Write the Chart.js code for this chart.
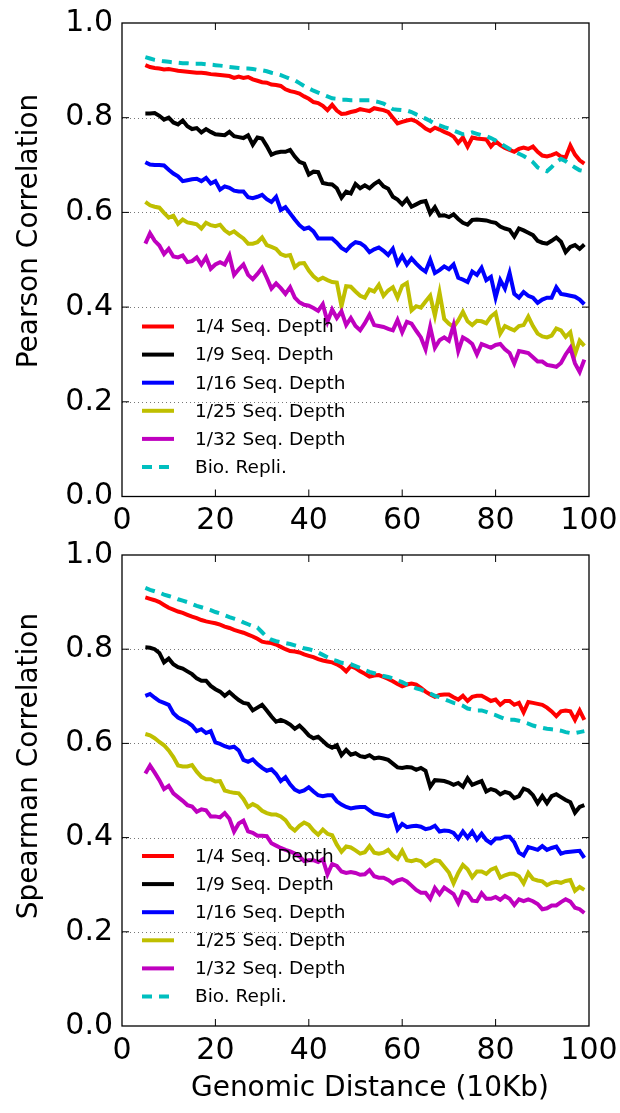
<!DOCTYPE html>
<html>
<head>
<meta charset="utf-8">
<script src="https://cdn.jsdelivr.net/npm/chart.js@4.4.1/dist/chart.umd.min.js"></script>
<style>
  body { margin: 0; background: #fff; }
  #wrap { position: relative; width: 620px; height: 1113px; overflow: hidden; font-family: "DejaVu Sans", sans-serif; }
  .panel { position: absolute; left: 0; width: 620px; }
  .ytitle { position: absolute; font-size: 28px; color: #000; white-space: nowrap; transform: translate(-50%, -50%) rotate(-90deg); }
  .xtitle { position: absolute; font-size: 28px; color: #000; white-space: nowrap; transform: translate(-50%, -50%); }
</style>
</head>
<body>
<div id="wrap">
  <div class="panel" style="top:0;height:540px"><canvas id="pearsonChart" width="620" height="540"></canvas></div>
  <div class="panel" style="top:530px;height:583px"><canvas id="spearmanChart" width="620" height="583"></canvas></div>
  <div class="ytitle" style="left:27px;top:231px">Pearson Correlation</div>
  <div class="ytitle" style="left:27px;top:766px">Spearman Correlation</div>
  <div class="xtitle" style="left:370px;top:1086px">Genomic Distance (10Kb)</div>
</div>
<script>
// genomic distance (x, in 10Kb)
var distance = [5,6,7,8,9,10,11,12,13,14,15,16,17,18,19,20,21,22,23,24,25,26,27,28,29,30,31,32,33,34,35,36,37,38,39,40,41,42,43,44,45,46,47,48,49,50,51,52,53,54,55,56,57,58,59,60,61,62,63,64,65,66,67,68,69,70,71,72,73,74,75,76,77,78,79,80,81,82,83,84,85,86,87,88,89,90,91,92,93,94,95,96,97,98,99];

var seriesLabels = ['1/4 Seq. Depth', '1/9 Seq. Depth', '1/16 Seq. Depth', '1/25 Seq. Depth', '1/32 Seq. Depth', 'Bio. Repli.'];
var seriesColors = ['#ff0000', '#000000', '#0000ff', '#bfbf00', '#bf00bf', '#00bfbf'];

var yTicks = [0, 0.2, 0.4, 0.6, 0.8, 1.0];
var xTicks = [0, 20, 40, 60, 80, 100];

// Pearson
var pearson4 = [.911,.907,.905,.904,.902,.903,.901,.899,.898,.897,
  .896,.895,.895,.894,.892,.891,.890,.889,.888,.884,
  .887,.884,.886,.881,.878,.875,.874,.870,.869,.867,
  .860,.856,.854,.851,.845,.840,.833,.831,.825,.816,
  .827,.815,.808,.809,.812,.814,.818,.816,.814,.820,
  .818,.816,.812,.800,.788,.791,.794,.796,.792,.785,
  .777,.772,.779,.775,.770,.766,.760,.747,.758,.739,
  .758,.756,.755,.754,.739,.750,.742,.736,.732,.728,
  .734,.737,.734,.739,.728,.720,.718,.721,.725,.718,
  .716,.741,.722,.710,.703];
var pearson9 = [.809,.809,.810,.804,.796,.800,.790,.786,.794,.782,
  .776,.778,.769,.776,.770,.765,.764,.763,.770,.761,
  .759,.757,.763,.743,.758,.756,.740,.722,.726,.728,
  .728,.732,.718,.707,.703,.680,.686,.685,.662,.660,
  .659,.651,.631,.644,.640,.660,.651,.657,.651,.660,
  .666,.655,.650,.633,.627,.617,.628,.612,.617,.622,
  .624,.598,.611,.593,.594,.590,.596,.586,.578,.574,
  .584,.585,.584,.583,.580,.578,.570,.566,.563,.549,
  .566,.562,.557,.552,.540,.536,.534,.540,.547,.538,
  .516,.527,.531,.523,.532];
var pearson16 = [.706,.701,.700,.700,.699,.690,.682,.676,.666,.668,
  .670,.671,.666,.673,.661,.666,.648,.655,.652,.646,
  .644,.644,.632,.630,.633,.637,.628,.622,.633,.605,
  .611,.598,.585,.573,.565,.568,.560,.545,.545,.545,
  .545,.536,.525,.519,.530,.537,.535,.528,.516,.522,
  .526,.519,.510,.523,.492,.508,.490,.503,.492,.482,
  .475,.500,.472,.478,.486,.480,.490,.462,.458,.453,
  .475,.468,.483,.457,.464,.420,.457,.439,.472,.428,
  .420,.432,.424,.420,.409,.416,.420,.420,.442,.428,
  .426,.424,.422,.416,.406];
var pearson25 = [.622,.615,.612,.610,.599,.589,.593,.576,.585,.579,
  .577,.575,.566,.578,.573,.571,.574,.562,.555,.560,
  .552,.545,.534,.534,.537,.547,.531,.527,.523,.512,
  .508,.510,.484,.492,.493,.477,.465,.457,.462,.457,
  .453,.452,.402,.444,.443,.433,.424,.420,.437,.433,
  .447,.424,.435,.442,.420,.445,.451,.393,.402,.399,
  .412,.424,.382,.431,.375,.365,.358,.372,.390,.370,
  .362,.371,.370,.366,.380,.388,.344,.360,.355,.351,
  .360,.362,.380,.360,.344,.338,.336,.340,.355,.351,
  .337,.347,.300,.329,.318];
var pearson32 = [.534,.556,.540,.530,.512,.523,.507,.505,.509,.495,
  .497,.505,.490,.505,.481,.490,.495,.490,.509,.468,
  .480,.490,.468,.459,.470,.483,.462,.439,.450,.440,
  .428,.442,.420,.410,.405,.403,.398,.392,.406,.369,
  .395,.377,.391,.362,.377,.360,.351,.366,.384,.362,
  .360,.358,.354,.351,.373,.347,.369,.365,.350,.336,
  .311,.358,.314,.330,.336,.329,.362,.307,.336,.330,
  .322,.300,.322,.318,.314,.320,.322,.311,.303,.281,
  .307,.305,.303,.294,.285,.285,.278,.276,.274,.282,
  .300,.314,.281,.263,.289];
var pearsonBio = [.928,.925,.922,.920,.919,.918,.917,.916,.915,.915,
  .914,.914,.914,.913,.912,.911,.910,.909,.907,.906,
  .905,.904,.904,.903,.901,.900,.898,.895,.893,.890,
  .886,.882,.879,.873,.867,.862,.857,.853,.849,.845,
  .841,.840,.838,.838,.837,.837,.837,.837,.837,.835,
  .833,.830,.824,.818,.817,.816,.815,.812,.807,.803,
  .798,.793,.787,.784,.780,.777,.773,.769,.765,.766,
  .769,.766,.763,.761,.757,.752,.746,.740,.734,.729,
  .724,.719,.713,.706,.695,.690,.687,.696,.706,.713,
  .708,.701,.695,.689,.687];

// Spearman
var spearman4 = [.910,.907,.904,.900,.894,.888,.884,.880,.877,.873,
  .869,.866,.862,.859,.857,.855,.852,.848,.845,.841,
  .838,.835,.831,.827,.822,.816,.814,.813,.810,.805,
  .800,.796,.795,.793,.789,.786,.783,.779,.776,.774,
  .772,.768,.762,.753,.764,.760,.753,.748,.742,.744,
  .745,.741,.737,.732,.726,.721,.725,.727,.725,.718,
  .710,.704,.699,.703,.704,.704,.698,.693,.701,.690,
  .699,.701,.701,.696,.690,.693,.682,.690,.690,.682,
  .686,.666,.688,.686,.684,.682,.676,.668,.658,.668,
  .670,.668,.650,.670,.650];
var spearman9 = [.804,.803,.800,.792,.772,.780,.768,.762,.759,.753,
  .747,.738,.733,.733,.722,.715,.710,.701,.709,.700,
  .692,.686,.684,.670,.676,.682,.670,.657,.646,.650,
  .646,.640,.631,.638,.628,.617,.611,.614,.605,.596,
  .591,.596,.575,.586,.576,.579,.573,.571,.575,.568,
  .570,.568,.565,.557,.549,.548,.550,.549,.544,.548,
  .542,.508,.522,.521,.520,.517,.512,.516,.508,.526,
  .512,.516,.520,.498,.503,.500,.492,.497,.494,.484,
  .488,.504,.500,.490,.473,.488,.473,.488,.492,.486,
  .480,.475,.453,.465,.469];
var spearman16 = [.701,.705,.697,.690,.686,.682,.664,.655,.650,.645,
  .638,.626,.630,.622,.626,.602,.599,.594,.591,.593,
  .585,.565,.561,.566,.556,.548,.542,.545,.535,.520,
  .528,.513,.502,.497,.500,.507,.498,.490,.488,.490,
  .490,.477,.470,.465,.462,.464,.465,.465,.458,.451,
  .449,.447,.445,.449,.417,.429,.422,.424,.425,.423,
  .418,.420,.425,.413,.415,.414,.410,.398,.413,.400,
  .413,.396,.408,.395,.388,.398,.398,.402,.402,.390,
  .368,.362,.380,.377,.374,.382,.374,.378,.381,.366,
  .369,.370,.371,.372,.357];
var spearman25 = [.620,.617,.611,.603,.596,.585,.571,.553,.551,.551,
  .554,.540,.529,.524,.524,.519,.520,.500,.497,.495,
  .494,.482,.465,.471,.466,.457,.452,.449,.449,.445,
  .437,.423,.415,.425,.432,.427,.415,.406,.417,.408,
  .405,.385,.370,.381,.379,.373,.366,.369,.382,.368,
  .366,.368,.374,.362,.355,.372,.352,.350,.353,.350,
  .340,.346,.352,.350,.338,.326,.303,.325,.342,.333,
  .316,.328,.328,.323,.332,.336,.315,.320,.323,.323,
  .318,.303,.325,.312,.309,.307,.299,.304,.306,.304,
  .308,.310,.287,.295,.289];
var spearman32 = [.536,.553,.538,.522,.503,.510,.494,.486,.478,.469,
  .466,.455,.460,.458,.445,.445,.443,.452,.440,.413,
  .430,.436,.413,.410,.404,.404,.403,.388,.383,.378,
  .374,.371,.366,.360,.350,.352,.352,.348,.354,.322,
  .344,.340,.328,.325,.327,.325,.321,.322,.331,.318,
  .315,.315,.310,.303,.309,.312,.307,.298,.289,.283,
  .283,.270,.293,.280,.294,.287,.280,.261,.285,.281,
  .266,.265,.282,.270,.270,.274,.268,.276,.270,.257,
  .269,.265,.269,.265,.259,.248,.250,.256,.256,.263,
  .269,.264,.251,.248,.240];
var spearmanBio = [.930,.926,.923,.920,.916,.913,.910,.906,.903,.900,
  .896,.892,.889,.886,.883,.879,.876,.872,.868,.865,
  .862,.857,.853,.849,.846,.836,.826,.820,.817,.815,
  .813,.811,.808,.805,.802,.800,.797,.793,.788,.783,
  .778,.775,.771,.770,.768,.764,.760,.756,.752,.749,
  .746,.743,.741,.738,.734,.730,.725,.721,.717,.714,
  .710,.706,.701,.698,.694,.690,.686,.684,.680,.674,
  .672,.670,.670,.667,.663,.660,.656,.652,.650,.650,
  .648,.645,.642,.638,.635,.633,.631,.630,.629,.627,
  .624,.622,.622,.624,.626];

var FONT = '"DejaVu Sans", sans-serif';

function makeDatasets(seriesList) {
    return seriesList.map(function (values, i) {
        return {
            label: seriesLabels[i],
            data: distance.map(function (d, j) { return { x: d, y: values[j] }; }),
            borderColor: seriesColors[i],
            backgroundColor: seriesColors[i],
            borderWidth: 4,
            borderDash: i === 5 ? [10, 7] : [],
            pointRadius: 0,
            tension: 0,
            fill: false,
            order: 6 - i // later series painted on top, like the original
        };
    });
}

// grid, frame, inward ticks and the legend inside the axes
var framePlugin = {
    id: 'frame',
    beforeDatasetsDraw: function (chart) {
        var ctx = chart.ctx, a = chart.chartArea, ys = chart.scales.y;
        ctx.save();
        ctx.strokeStyle = '#777';
        ctx.lineWidth = 1;
        ctx.setLineDash([1, 3]);
        yTicks.forEach(function (v) {
            if (v <= 0 || v >= 1) return;
            var py = Math.round(ys.getPixelForValue(v)) + 0.5;
            ctx.beginPath();
            ctx.moveTo(a.left, py);
            ctx.lineTo(a.right, py);
            ctx.stroke();
        });
        ctx.restore();
    },
    afterDatasetsDraw: function (chart) {
        var ctx = chart.ctx, a = chart.chartArea;
        var xs = chart.scales.x, ys = chart.scales.y;
        var tl = 7;
        ctx.save();
        ctx.strokeStyle = '#000';
        ctx.lineWidth = 1;
        xTicks.forEach(function (v) {
            if (v <= 0 || v >= 100) return;
            var px = xs.getPixelForValue(v);
            ctx.beginPath();
            ctx.moveTo(px, a.bottom); ctx.lineTo(px, a.bottom - tl);
            ctx.moveTo(px, a.top); ctx.lineTo(px, a.top + tl);
            ctx.stroke();
        });
        yTicks.forEach(function (v) {
            if (v <= 0 || v >= 1) return;
            var py = ys.getPixelForValue(v);
            ctx.beginPath();
            ctx.moveTo(a.left, py); ctx.lineTo(a.left + tl, py);
            ctx.moveTo(a.right, py); ctx.lineTo(a.right - tl, py);
            ctx.stroke();
        });
        ctx.lineWidth = 1.3;
        ctx.strokeRect(a.left, a.top, a.right - a.left, a.bottom - a.top);

        // legend, lower left inside the axes
        var rowH = 28.1;
        var firstRow = a.bottom - 170;
        ctx.font = '18.5px ' + FONT;
        ctx.textBaseline = 'middle';
        ctx.textAlign = 'left';
        chart.data.datasets.forEach(function (ds, i) {
            var y = firstRow + i * rowH;
            ctx.beginPath();
            ctx.strokeStyle = ds.borderColor;
            ctx.lineWidth = ds.borderWidth;
            ctx.setLineDash(ds.borderDash);
            ctx.moveTo(a.left + 20, y);
            ctx.lineTo(a.left + 52, y);
            ctx.stroke();
            ctx.setLineDash([]);
            ctx.fillStyle = '#000';
            ctx.fillText(ds.label, a.left + 73, y + 1);
        });
        ctx.restore();
    }
};

function makeChart(canvasId, seriesList, xHeight, padTop) {
    var ctx = document.getElementById(canvasId).getContext('2d');
    return new Chart(ctx, {
        type: 'line',
        data: { datasets: makeDatasets(seriesList) },
        options: {
            responsive: false,
            animation: false,
            layout: { padding: { top: padTop, right: 31, left: 0, bottom: 0 } },
            plugins: { legend: { display: false }, tooltip: { enabled: false } },
            scales: {
                x: {
                    type: 'linear',
                    min: 0, max: 100,
                    afterBuildTicks: function (s) { s.ticks = xTicks.map(function (v) { return { value: v }; }); },
                    afterFit: function (s) { s.height = xHeight; s.paddingLeft = 0; s.paddingRight = 0; },
                    grid: { display: false, drawTicks: false },
                    border: { display: false },
                    ticks: { font: { family: FONT, size: 30 }, color: '#000', padding: 7, maxRotation: 0,
                             callback: function (v) { return String(v); } }
                },
                y: {
                    min: 0, max: 1,
                    afterBuildTicks: function (s) { s.ticks = yTicks.map(function (v) { return { value: v }; }); },
                    afterFit: function (s) { s.width = 122; s.paddingTop = 0; s.paddingBottom = 0; },
                    grid: { display: false, drawTicks: false },
                    border: { display: false },
                    ticks: { font: { family: FONT, size: 30 }, color: '#000', padding: 9,
                             callback: function (v) { return Number(v).toFixed(1); } }
                }
            }
        },
        plugins: [framePlugin]
    });
}

document.addEventListener('DOMContentLoaded', function () {
    makeChart('pearsonChart', [pearson4, pearson9, pearson16, pearson25, pearson32, pearsonBio], 43.5, 23);
    makeChart('spearmanChart', [spearman4, spearman9, spearman16, spearman25, spearman32, spearmanBio], 87, 25);
});
</script>
</body>
</html>
